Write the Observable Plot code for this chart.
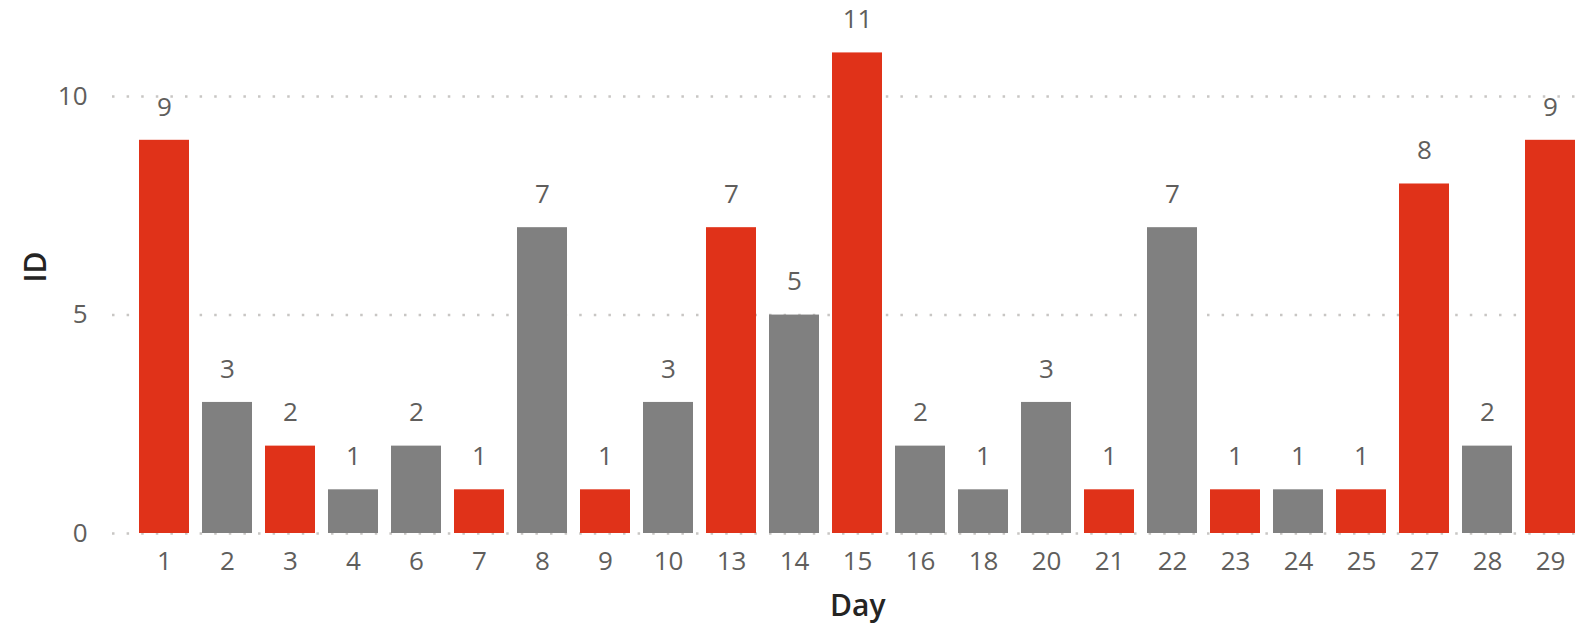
<!DOCTYPE html>
<html>
<head>
<meta charset="utf-8">
<script src="https://cdn.jsdelivr.net/npm/d3@7"></script>
<script src="https://cdn.jsdelivr.net/npm/@observablehq/plot@0.6"></script>
<style>
  html, body { margin: 0; padding: 0; background: #fff; }
  #chart svg { display: block; }
</style>
</head>
<body>
<div id="chart"></div>
<script>
const days = [1, 2, 3, 4, 6, 7, 8, 9, 10, 13, 14, 15, 16, 18, 20, 21, 22, 23, 24, 25, 27, 28, 29];
const ids = [9, 3, 2, 1, 2, 1, 7, 1, 3, 7, 5, 11, 2, 1, 3, 1, 7, 1, 1, 1, 8, 2, 9];
const highlighted = [1, 3, 7, 9, 13, 15, 21, 23, 25, 27, 29];
const yTicks = [0, 5, 10];

const data = days.map((d, i) => ({
  day: String(d),
  id: ids[i],
  group: highlighted.includes(d) ? "highlight" : "normal"
}));

const chart = Plot.plot({
  width: 1582,
  height: 630,
  marginLeft: 134,
  marginRight: 1.5,
  marginTop: 0,
  marginBottom: 97,
  style: { fontFamily: "'Open Sans', 'Noto Sans', sans-serif", background: "#fff" },
  x: {
    domain: days.map(String),
    paddingInner: 0.2,
    paddingOuter: 0.05
  },
  y: { domain: [0, 12.2] },
  color: {
    domain: ["highlight", "normal"],
    range: ["#E03219", "#808080"]
  },
  marks: [
    Plot.gridY(yTicks, {
      stroke: "#c8c6c4",
      strokeOpacity: 1,
      strokeWidth: 2.5,
      strokeDasharray: "2.5 12.1",
      insetLeft: -22,
      insetRight: 0
    }),
    Plot.barY(data, { x: "day", y: "id", fill: "group" }),
    Plot.text(data, {
      x: "day", y: "id", text: d => String(d.id),
      dy: -33, lineAnchor: "middle", fill: "#605E5C", fontSize: 26
    }),
    Plot.axisX({
      tickSize: 0, tickPadding: 18, fontSize: 26, color: "#605E5C",
      label: null
    }),
    Plot.axisX({
      ticks: [], tickSize: 0, label: "Day", labelAnchor: "center", labelArrow: "none",
      labelOffset: 82, fontSize: 30, fontWeight: 600, color: "#252423"
    }),
    Plot.axisY(yTicks, {
      tickSize: 0, tickPadding: 47, fontSize: 26, color: "#605E5C",
      label: null
    }),
    Plot.axisY({
      ticks: [], tickSize: 0, label: "ID", labelAnchor: "center", labelArrow: "none",
      labelOffset: 110, fontSize: 30, fontWeight: 600, color: "#252423"
    })
  ]
});
document.getElementById("chart").appendChild(chart);
</script>
</body>
</html>
